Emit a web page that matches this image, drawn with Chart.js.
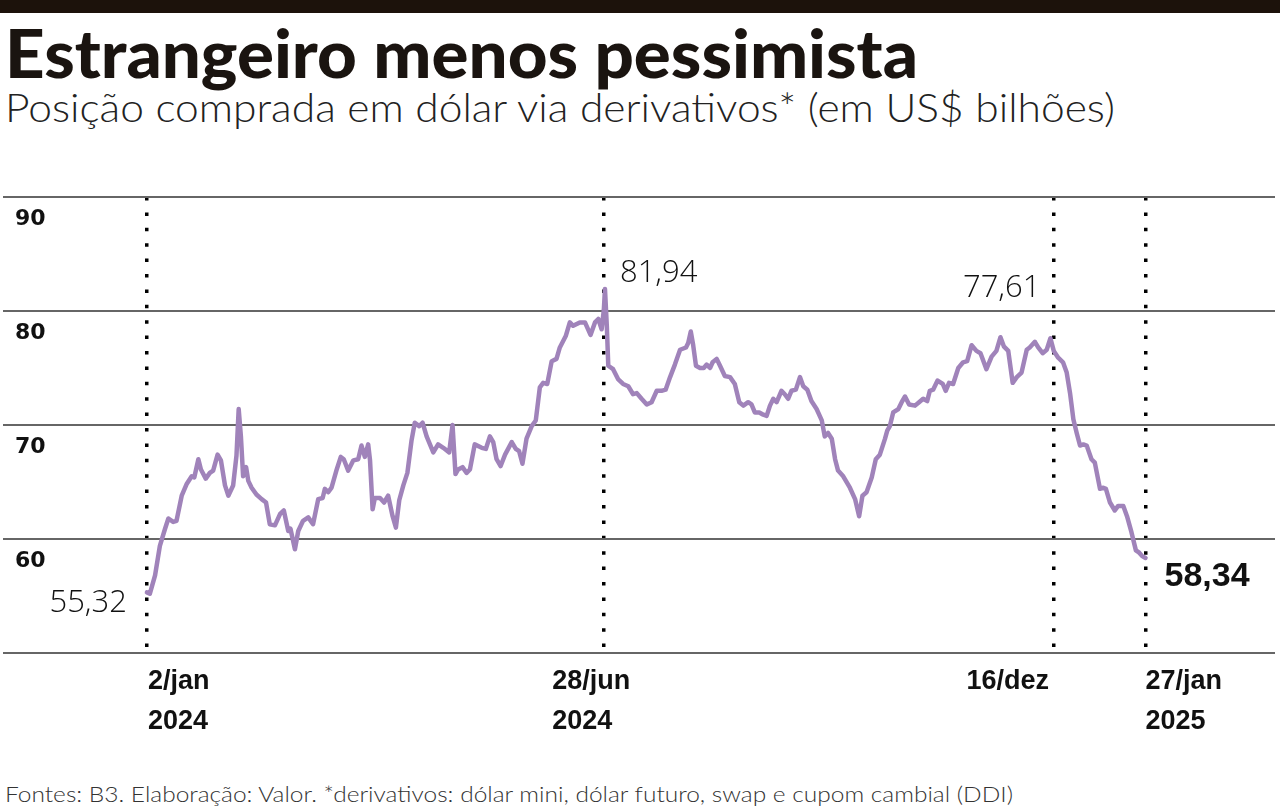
<!DOCTYPE html>
<html lang="pt-BR">
<head>
<meta charset="utf-8">
<script src="https://cdn.jsdelivr.net/npm/chart.js@4.4.1/dist/chart.umd.min.js"></script>
<style>
    html, body { margin: 0; padding: 0; background: #fff; }
    body { width: 1280px; height: 810px; position: relative; overflow: hidden; }
    #faixa { position: absolute; left: 0; top: 0; width: 1280px; height: 13px; background: #1c120b; }
    .fit { position: absolute; left: 5px; white-space: nowrap; line-height: 1; transform-origin: 0 0; color: #1a1410; }
    #titulo { top: 20px; font-family: Lato, sans-serif; font-weight: 900; font-size: 66px; }
    #subtitulo { top: 87px; font-family: Lato, sans-serif; font-weight: 300; font-size: 40px; color: #222; }
    #fonte { top: 783px; font-family: Lato, sans-serif; font-weight: 300; font-size: 22px; color: #333; }
    #grafico { position: absolute; left: 0; top: 180px; width: 1280px; height: 560px; }
</style>
</head>
<body>
<div id="faixa"></div>
<div id="titulo" class="fit" data-w="913">Estrangeiro menos pessimista</div>
<div id="subtitulo" class="fit" data-w="1110">Posição comprada em dólar via derivativos* (em US$ bilhões)</div>
<div id="grafico"><canvas id="chart"></canvas></div>
<div id="fonte" class="fit" data-w="1008">Fontes: B3. Elaboração: Valor. *derivativos: dólar mini, dólar futuro, swap e cupom cambial (DDI)</div>

<script>
// Pregões contados a partir de 2/jan/2024
const sessoes = [
    0, 0.8, 2.2, 3.5, 4.9, 5.8, 7.1, 8.0, 9.4, 10.7, 12.1, 12.8, 13.9, 14.6, 15.9, 17.0, 17.9, 19.1, 20.0, 21.1,
    22.0, 23.3, 24.2, 24.8, 25.4, 26.0, 26.8, 27.4, 28.3, 29.6, 31.0, 32.2, 33.2, 34.6, 36.0, 37.0, 38.2, 38.8, 40.0, 40.9,
    42.2, 43.6, 44.9, 46.3, 47.5, 48.1, 49.0, 49.9, 51.3, 52.4, 53.2, 54.4, 55.8, 57.1, 58.0, 58.9, 59.8, 60.3, 61.0, 61.6,
    63.0, 64.1, 65.2, 66.4, 67.3, 68.2, 69.3, 70.4, 71.5, 72.4, 73.6, 74.5, 75.6, 77.4, 78.7, 80.1, 81.7, 82.6, 83.4, 84.1,
    85.3, 86.4, 87.3, 88.6, 90.5, 91.6, 92.7, 93.6, 94.5, 95.6, 96.8, 98.6, 99.7, 100.6, 101.5, 102.6, 104.0, 105.1, 106.2, 107.1,
    108.2, 109.4, 110.7, 111.6, 113.2, 114.3, 115.2, 117.0, 118.4, 119.9, 121.1, 122.0, 122.9, 123.5, 123.8, 124.3, 124.7, 126.0, 127.4, 128.7,
    130.1, 131.4, 132.4, 133.7, 135.1, 136.4, 137.8, 139.1, 140.2, 141.4, 142.7, 144.1, 145.7, 146.3, 147.0, 147.6, 148.4, 149.5, 150.5, 151.3,
    152.2, 152.9, 154.0, 154.9, 156.2, 157.6, 158.9, 160.1, 161.2, 162.5, 163.4, 164.3, 165.5, 166.6, 167.5, 168.4, 169.3, 170.2, 171.5, 172.4,
    173.3, 174.2, 175.4, 176.5, 177.4, 178.5, 179.6, 181.0, 182.4, 183.2, 184.1, 185.1, 186.0, 186.8, 188.2, 190.0, 191.4, 192.5, 193.4, 194.5,
    195.9, 197.0, 198.1, 199.5, 200.1, 200.8, 201.7, 203.1, 204.0, 204.9, 206.0, 207.6, 208.7, 209.8, 210.9, 211.6, 212.5, 213.7, 215.1, 215.9,
    216.8, 217.9, 219.3, 220.6, 221.7, 222.9, 224.2, 225.3, 226.9, 228.3, 229.6, 230.7, 231.6, 232.8, 234.0, 235.1, 236.4, 237.8, 238.6, 240.0,
    240.9, 242.1, 243.2, 244.2, 245.1, 246.3, 247.6, 248.6, 249.5, 250.4, 251.3, 252.2, 253.1, 254.0, 255.3, 256.2, 257.6, 258.5, 259.2, 260.3,
    261.6, 262.5, 263.9, 264.9, 266.1, 267.3, 268.2, 269.0, 269.9
];
// Posição comprada em dólar (US$ bilhões)
const posicao = [
    55.32, 55.2, 56.8, 59.4, 60.9, 61.8, 61.5, 61.6, 63.8, 64.8, 65.5, 65.4, 67.0, 66.1, 65.3, 65.8, 66.0, 67.4, 66.9, 64.7,
    63.8, 64.7, 67.3, 71.4, 69.0, 65.5, 66.3, 65.1, 64.5, 63.9, 63.5, 63.2, 61.3, 61.2, 62.2, 62.5, 60.7, 60.9, 59.1, 60.7,
    61.6, 61.9, 61.3, 63.5, 63.6, 64.4, 64.1, 64.5, 66.1, 67.2, 67.0, 66.0, 66.9, 67.0, 68.2, 67.2, 68.3, 66.9, 62.6, 63.6,
    63.6, 63.2, 63.8, 62.0, 61.0, 63.4, 64.7, 65.8, 68.6, 70.2, 69.9, 70.2, 69.0, 67.6, 68.3, 68.0, 67.6, 70.0, 65.7, 66.1,
    66.3, 65.8, 66.1, 68.3, 68.0, 67.9, 69.0, 68.5, 67.0, 66.4, 67.4, 68.5, 67.9, 67.7, 66.6, 68.8, 69.9, 70.4, 73.3, 73.7,
    73.6, 75.6, 75.8, 76.8, 77.8, 79.0, 78.7, 79.0, 79.0, 77.9, 79.0, 79.3, 78.4, 80.1, 81.94, 78.7, 75.2, 74.9, 74.0, 73.6,
    73.4, 72.7, 72.8, 72.3, 71.8, 72.0, 73.0, 73.0, 73.1, 74.2, 75.3, 76.6, 76.8, 77.2, 78.2, 77.1, 75.2, 75.0, 75.0, 75.3,
    75.0, 75.5, 75.8, 75.2, 74.3, 74.2, 73.6, 72.0, 71.7, 72.0, 71.8, 71.1, 71.1, 70.9, 70.8, 71.7, 72.3, 72.0, 73.0, 72.7,
    72.3, 73.0, 73.1, 74.2, 73.4, 73.1, 72.1, 71.4, 70.4, 69.0, 69.3, 68.8, 67.0, 66.0, 65.5, 64.5, 63.5, 62.0, 63.8, 64.1,
    65.4, 67.0, 67.4, 68.8, 69.5, 69.9, 71.1, 71.4, 72.0, 72.5, 71.8, 71.7, 72.0, 72.3, 72.1, 73.0, 73.1, 73.9, 73.6, 73.0,
    73.7, 73.6, 75.0, 75.5, 75.6, 77.0, 76.5, 76.3, 74.9, 76.0, 76.5, 77.7, 76.9, 76.5, 73.7, 74.2, 74.6, 76.6, 76.8, 77.3,
    76.8, 76.3, 76.6, 77.61, 76.5, 75.9, 75.5, 74.6, 72.8, 70.5, 69.3, 68.2, 68.3, 68.2, 67.0, 66.7, 64.4, 64.5, 64.4, 63.2,
    62.5, 62.9, 62.9, 62.0, 60.6, 59.0, 58.8, 58.5, 58.34
];

// Datas marcadas no eixo
const marcoSessoes = [0, 123.6, 245.2, 269.9];
const marcoDias = ['2/jan', '28/jun', '16/dez', '27/jan'];
const marcoAnos = ['2024', '2024', '', '2025'];

// Valores destacados
const destaqueSessoes = [0, 123.8, 244.2, 269.9];
const destaqueTextos = ['55,32', '81,94', '77,61', '58,34'];

// Ajusta largura dos textos condensados
function ajustarTextos() {
    document.querySelectorAll('.fit').forEach(el => {
        el.style.transform = 'none';
        const w = el.getBoundingClientRect().width;
        el.style.transform = `scaleX(${el.dataset.w / w})`;
    });
}
ajustarTextos();
if (document.fonts) document.fonts.ready.then(ajustarTextos);

// Rótulos do eixo x e valores destacados
const marcoEstilo = [
    { align: 'left', dx: 1 },
    { align: 'left', dx: -52 },
    { align: 'right', dx: -5 },
    { align: 'left', dx: 0 }
];
const destaqueEstilo = [
    { align: 'right', dx: -20, dy: 20, font: "300 31px 'Open Sans'" },
    { align: 'left', dx: 15, dy: -7, font: "300 31px 'Open Sans'" },
    { align: 'right', dx: -10, dy: -41, font: "300 31px 'Open Sans'" },
    { align: 'left', dx: 19, dy: 28, font: "bold 34px 'Liberation Sans'" }
];

const rotulosPlugin = {
    id: 'rotulos',
    afterDraw(chart) {
        const ctx = chart.ctx;
        const xs = chart.scales.x;
        const ys = chart.scales.y;
        const base = chart.chartArea.bottom;
        ctx.save();
        ctx.fillStyle = '#111';
        ctx.textBaseline = 'alphabetic';
        ctx.font = "bold 27px 'Liberation Sans'";
        marcoSessoes.forEach((s, i) => {
            const px = xs.getPixelForValue(s) + marcoEstilo[i].dx;
            ctx.textAlign = marcoEstilo[i].align;
            ctx.fillText(marcoDias[i], px, base + 36);
            if (marcoAnos[i]) ctx.fillText(marcoAnos[i], px, base + 76);
        });
        destaqueSessoes.forEach((s, i) => {
            const k = sessoes.indexOf(s);
            const px = xs.getPixelForValue(s);
            const py = ys.getPixelForValue(posicao[k]);
            const st = destaqueEstilo[i];
            ctx.font = st.font;
            ctx.textAlign = st.align;
            ctx.fillText(destaqueTextos[i], px + st.dx, py + st.dy);
        });
        ctx.restore();
    }
};

// Eixos sem espaço reservado: a área do gráfico fica só com o padding
function semEspaco(scale) {
    if (scale.isHorizontal()) scale.height = 0; else scale.width = 0;
    scale.paddingTop = 0;
    scale.paddingBottom = 0;
    scale.paddingLeft = 0;
    scale.paddingRight = 0;
}

const ctx = document.getElementById('chart').getContext('2d');
const chart = new Chart(ctx, {
    type: 'line',
    data: {
        datasets: [{
            data: sessoes.map((s, i) => ({ x: s, y: posicao[i] })),
            borderColor: '#a083ba',
            borderWidth: 4.5,
            pointRadius: 0,
            tension: 0,
            borderJoinStyle: 'round',
            borderCapStyle: 'round'
        }]
    },
    options: {
        responsive: true,
        maintainAspectRatio: false,
        animation: false,
        layout: { padding: { top: 17, left: 3, right: 5, bottom: 87 } },
        plugins: { legend: { display: false }, tooltip: { enabled: false } },
        scales: {
            x: {
                type: 'linear',
                min: -38.9,
                max: 304.9,
                afterBuildTicks: scale => { scale.ticks = marcoSessoes.map(v => ({ value: v })); },
                afterFit: semEspaco,
                ticks: { display: false },
                grid: { color: '#000', lineWidth: 3.5, drawTicks: false },
                border: { display: false, dash: [3.5, 11.9] }
            },
            y: {
                min: 50,
                max: 90,
                afterFit: semEspaco,
                ticks: {
                    stepSize: 10,
                    mirror: true,
                    padding: 12,
                    labelOffset: 22,
                    color: '#111',
                    font: { family: 'DejaVu Sans', weight: 'bold', size: 22 },
                    callback: v => (v === 50 ? '' : v)
                },
                grid: { color: '#666', lineWidth: 2, drawTicks: false },
                border: { display: false }
            }
        }
    },
    plugins: [rotulosPlugin]
});
</script>
</body>
</html>
